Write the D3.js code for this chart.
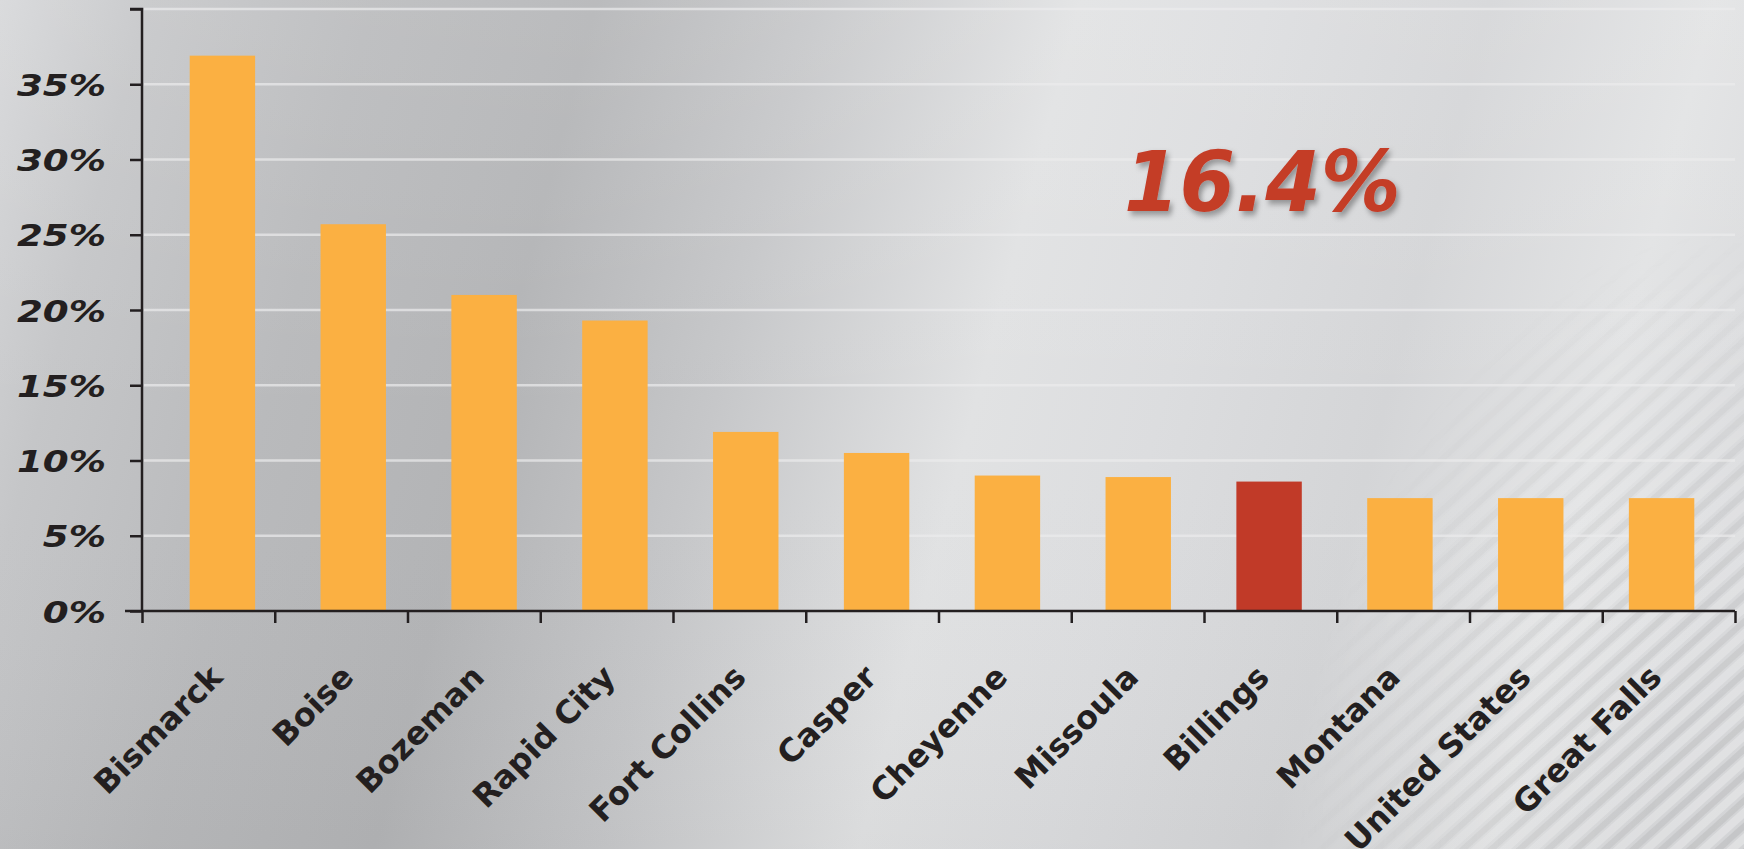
<!DOCTYPE html>
<html>
<head>
<meta charset="utf-8">
<script src="https://cdn.jsdelivr.net/npm/d3@7"></script>
<style>
  body { margin: 0; overflow: hidden; background: #c8c9cb; }
  svg { display: block; }
</style>
</head>
<body>
<div id="chart"></div>
<script>
// data
const cities = ['Bismarck', 'Boise', 'Bozeman', 'Rapid City', 'Fort Collins', 'Casper',
  'Cheyenne', 'Missoula', 'Billings', 'Montana', 'United States', 'Great Falls']
const growth = [36.9, 25.7, 21.0, 19.3, 11.9, 10.5, 9.0, 8.9, 8.6, 7.5, 7.5, 7.5]
const highlightCity = 'Billings'
const yTicks = [0, 5, 10, 15, 20, 25, 30, 35, 40]
const callout = '16.4%'

const width = 1744
const height = 849
const margin = { top: 9, right: 9, bottom: 238, left: 142 }

const svg = d3.select('#chart')
  .append('svg')
  .attr('width', width)
  .attr('height', height)

const defs = svg.append('defs')

// brushed metal background, bands lean a little to the left going down
const bg = defs.append('linearGradient')
  .attr('id', 'metal')
  .attr('gradientUnits', 'userSpaceOnUse')
  .attr('x1', 0).attr('y1', 0)
  .attr('x2', 1744).attr('y2', 457)
const bgStops = [
  [0, '#d6d7d9'], [0.08, '#c5c6c8'], [0.2, '#b9babc'], [0.32, '#b3b4b6'], [0.44, '#c6c7c9'],
  [0.58, '#e1e2e3'], [0.68, '#dcdddf'], [0.8, '#d4d5d7'], [0.92, '#e2e3e4'], [1, '#d9dadc']
]
bg.selectAll('stop')
  .data(bgStops)
  .enter()
  .append('stop')
  .attr('offset', d => d[0])
  .attr('stop-color', d => d[1])

const shade = defs.append('linearGradient')
  .attr('id', 'shade')
  .attr('x1', '0').attr('y1', '0').attr('x2', '0').attr('y2', '1')
shade.append('stop').attr('offset', 0).attr('stop-color', '#fff').attr('stop-opacity', 0.1)
shade.append('stop').attr('offset', 0.5).attr('stop-color', '#fff').attr('stop-opacity', 0)
shade.append('stop').attr('offset', 1).attr('stop-color', '#000').attr('stop-opacity', 0.03)

const stripes = defs.append('pattern')
  .attr('id', 'stripes')
  .attr('width', 19).attr('height', 19)
  .attr('patternUnits', 'userSpaceOnUse')
  .attr('patternTransform', 'rotate(48)')
stripes.append('rect').attr('width', 8).attr('height', 19).attr('fill', '#ffffff').attr('opacity', 0.3)
stripes.append('rect').attr('x', 11).attr('width', 6).attr('height', 19).attr('fill', '#8f9093').attr('opacity', 0.2)

const fade = defs.append('radialGradient')
  .attr('id', 'fade')
  .attr('gradientUnits', 'userSpaceOnUse')
  .attr('cx', 0).attr('cy', 0).attr('r', 620)
  .attr('gradientTransform', `translate(${width},${height}) scale(0.72,1)`)
fade.append('stop').attr('offset', 0).attr('stop-color', '#fff').attr('stop-opacity', 1)
fade.append('stop').attr('offset', 0.55).attr('stop-color', '#fff').attr('stop-opacity', 0.6)
fade.append('stop').attr('offset', 1).attr('stop-color', '#fff').attr('stop-opacity', 0)
defs.append('mask').attr('id', 'stripeMask')
  .append('rect').attr('width', width).attr('height', height).attr('fill', 'url(#fade)')

const shadow = defs.append('filter').attr('id', 'shadow')
  .attr('x', '-10%').attr('y', '-10%').attr('width', '130%').attr('height', '140%')
shadow.append('feDropShadow')
  .attr('dx', 3).attr('dy', 4).attr('stdDeviation', 3)
  .attr('flood-color', '#000').attr('flood-opacity', 0.35)

svg.append('rect').attr('width', width).attr('height', height).attr('fill', 'url(#metal)')
svg.append('rect').attr('width', width).attr('height', height).attr('fill', 'url(#shade)')
svg.append('rect').attr('width', width).attr('height', height)
  .attr('fill', 'url(#stripes)').attr('mask', 'url(#stripeMask)')

const plotRight = width - margin.right
const y = d3.scaleLinear()
  .domain([0, 40])
  .range([height - margin.bottom, margin.top])

// tick positions sit on the band edges
const xEdge = d3.scaleLinear()
  .domain([0, cities.length])
  .range([margin.left, plotRight])

// bars are laid out on a slightly shorter run than the axis
const x = d3.scaleBand()
  .domain(cities)
  .range([157, 1727])
  .paddingInner(0.5)
  .paddingOuter(0.25)

// grid lines
svg.append('g')
  .selectAll('line')
  .data(yTicks.filter(d => d > 0))
  .enter()
  .append('line')
  .attr('x1', margin.left + 2)
  .attr('x2', plotRight)
  .attr('y1', d => y(d))
  .attr('y2', d => y(d))
  .attr('stroke', '#ececed')
  .attr('stroke-width', 2.5)
  .attr('opacity', 0.7)

// bars
svg.append('g')
  .selectAll('rect')
  .data(cities)
  .enter()
  .append('rect')
  .attr('x', d => x(d))
  .attr('width', x.bandwidth())
  .attr('y', (d, i) => y(growth[i]))
  .attr('height', (d, i) => y(0) - y(growth[i]))
  .attr('fill', d => d === highlightCity ? '#c13a28' : '#fbb042')

// y axis
const yAxis = svg.append('g')
  .attr('transform', `translate(${margin.left},0)`)
  .call(d3.axisLeft(y)
    .tickValues(yTicks)
    .tickSize(12)
    .tickFormat(d => d === 40 ? '' : d + '%'))
yAxis.selectAll('path, line')
  .attr('stroke', '#231f20')
  .attr('stroke-width', 2.5)
yAxis.select('.domain').attr('d', `M-12,${y(40)}H0V${y(0)}`)
yAxis.selectAll('text')
  .attr('x', 0)
  .attr('dy', '0.36em')
  .attr('transform', 'translate(-36,0) scale(1.2,1)')
  .attr('fill', '#231f20')
  .style('font-family', '"DejaVu Sans", sans-serif')
  .style('font-weight', 'bold')
  .style('font-style', 'italic')
  .style('font-size', '31px')

// x axis
const xAxis = svg.append('g')
  .attr('transform', `translate(0,${y(0)})`)
  .call(d3.axisBottom(xEdge)
    .tickValues(d3.range(cities.length + 1))
    .tickSize(12)
    .tickFormat(''))
xAxis.selectAll('path, line')
  .attr('stroke', '#231f20')
  .attr('stroke-width', 2.5)
xAxis.select('.domain').attr('d', `M${margin.left - 17},0H${plotRight}`)

// city labels
svg.append('g')
  .selectAll('text')
  .data(cities)
  .enter()
  .append('text')
  .attr('transform', d => `translate(${x(d) + x.bandwidth() / 2 + 2},${y(0) + 68}) rotate(-45)`)
  .attr('text-anchor', 'end')
  .attr('fill', '#231f20')
  .style('font-family', '"DejaVu Sans", sans-serif')
  .style('font-weight', 'bold')
  .style('font-size', '32px')
  .text(d => d)

// callout
svg.append('text')
  .attr('transform', 'translate(1124,211) scale(0.95,1)')
  .attr('fill', '#c43c28')
  .attr('filter', 'url(#shadow)')
  .style('font-family', '"DejaVu Sans", sans-serif')
  .style('font-weight', 'bold')
  .style('font-style', 'italic')
  .style('font-size', '84px')
  .text(callout)
</script>
</body>
</html>
